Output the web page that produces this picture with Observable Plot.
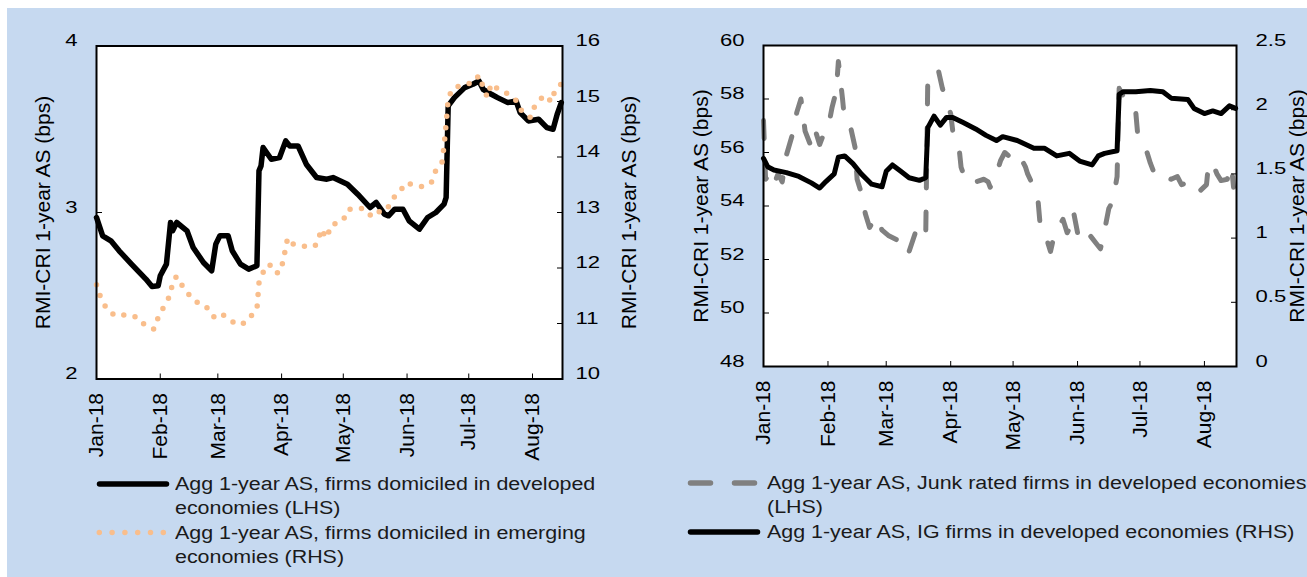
<!DOCTYPE html>
<html>
<head>
<meta charset="utf-8">
<script src="https://cdn.jsdelivr.net/npm/d3@7"></script>
<script src="https://cdn.jsdelivr.net/npm/@observablehq/plot@0.6"></script>
<style>
html, body { margin: 0; padding: 0; background: #ffffff; }
body { width: 1307px; height: 577px; overflow: hidden; position: relative; font-family: "Liberation Sans", Arial, sans-serif; }
#bg { position: absolute; left: 7px; top: 8px; width: 1300px; height: 569px; background: #C6D9F0; }
.panel { position: absolute; top: 0; }
.leg { position: absolute; font-size: 18px; line-height: 24.5px; color: #1a1a1a; white-space: pre; transform: scaleX(1.19); transform-origin: left center; }
svg.sw { position: absolute; left: 0; top: 0; overflow: visible; }
</style>
</head>
<body>
<div id="bg"></div>
<div id="left" class="panel" style="left:0px"></div>
<div id="right" class="panel" style="left:655px"></div>
<svg class="sw" width="1307" height="577" id="swatches"></svg>
<div id="legL" class="leg" style="left:175px; top:471.75px"></div>
<div id="legR" class="leg" style="left:767px; top:470.75px"></div>
<script>
// ---------- data ----------
const yTitle = "RMI-CRI 1-year AS (bps)";
const monthTicks = ["2018-01-01","2018-02-01","2018-03-01","2018-04-01","2018-05-01","2018-06-01","2018-07-01","2018-08-01"];

// Left panel
const devLabel = ["Agg 1-year AS, firms domiciled in developed", "economies (LHS)"];
const emLabel = ["Agg 1-year AS, firms domiciled in emerging", "economies (RHS)"];
const leftTicksL = [2, 3, 4];
const leftTicksR = [10, 11, 12, 13, 14, 15, 16];

const devDates = ["2018-01-01","2018-01-04","2018-01-08","2018-01-12","2018-01-18","2018-01-25","2018-01-28","2018-01-31","2018-02-01","2018-02-04","2018-02-06","2018-02-07","2018-02-09","2018-02-14","2018-02-17","2018-02-22","2018-02-26","2018-02-28","2018-03-02","2018-03-06","2018-03-08","2018-03-12","2018-03-16","2018-03-20","2018-03-21","2018-03-22","2018-03-23","2018-03-27","2018-03-31","2018-04-03","2018-04-05","2018-04-09","2018-04-13","2018-04-18","2018-04-23","2018-04-26","2018-05-03","2018-05-08","2018-05-14","2018-05-17","2018-05-21","2018-05-23","2018-05-26","2018-05-30","2018-06-02","2018-06-07","2018-06-11","2018-06-15","2018-06-19","2018-06-20","2018-06-21","2018-06-24","2018-06-29","2018-07-03","2018-07-06","2018-07-08","2018-07-12","2018-07-15","2018-07-20","2018-07-24","2018-07-26","2018-07-30","2018-08-04","2018-08-08","2018-08-11","2018-08-13","2018-08-15"];
const devValues = [2.97,2.86,2.83,2.77,2.69,2.60,2.555,2.56,2.62,2.69,2.94,2.89,2.94,2.89,2.79,2.70,2.65,2.81,2.86,2.86,2.77,2.69,2.66,2.68,3.25,3.28,3.39,3.32,3.33,3.43,3.40,3.40,3.29,3.21,3.20,3.21,3.17,3.11,3.03,3.06,2.99,2.98,3.02,3.02,2.95,2.90,2.97,3.00,3.05,3.09,3.64,3.69,3.75,3.77,3.79,3.74,3.71,3.69,3.66,3.67,3.60,3.55,3.56,3.51,3.50,3.59,3.66];

const emDates = ["2018-01-01","2018-01-03","2018-01-06","2018-01-10","2018-01-16","2018-01-21","2018-01-25","2018-01-29","2018-01-31","2018-02-03","2018-02-06","2018-02-07","2018-02-09","2018-02-11","2018-02-15","2018-02-19","2018-02-23","2018-02-27","2018-03-02","2018-03-06","2018-03-10","2018-03-14","2018-03-17","2018-03-20","2018-03-21","2018-03-23","2018-03-25","2018-03-28","2018-03-30","2018-03-31","2018-04-02","2018-04-03","2018-04-04","2018-04-06","2018-04-12","2018-04-17","2018-04-19","2018-04-20","2018-04-23","2018-04-25","2018-05-01","2018-05-03","2018-05-08","2018-05-11","2018-05-15","2018-05-18","2018-05-22","2018-05-25","2018-05-29","2018-05-31","2018-06-05","2018-06-09","2018-06-13","2018-06-15","2018-06-18","2018-06-19","2018-06-20","2018-06-21","2018-06-23","2018-06-25","2018-06-28","2018-06-30","2018-07-03","2018-07-06","2018-07-08","2018-07-10","2018-07-12","2018-07-16","2018-07-20","2018-07-24","2018-07-27","2018-07-31","2018-08-02","2018-08-05","2018-08-08","2018-08-10","2018-08-12","2018-08-15"];
const emValues = [11.70,11.47,11.26,11.14,11.16,11.11,10.95,10.90,11.11,11.32,11.52,11.76,11.85,11.72,11.52,11.38,11.32,11.12,11.19,11.10,10.98,11.01,11.13,11.26,11.73,11.92,12.06,12.04,11.91,11.92,12.15,12.39,12.54,12.44,12.39,12.39,12.48,12.70,12.54,12.77,12.86,13.05,13.08,13.07,12.92,13.01,13.04,13.25,13.40,13.53,13.50,13.46,13.55,13.76,13.91,14.20,14.60,15.05,15.23,15.26,15.30,15.32,15.33,15.47,15.26,15.08,15.32,15.20,15.14,15.02,14.81,14.71,14.91,15.05,15.11,14.99,15.20,15.32];

// Right panel
const junkLabel = ["Agg 1-year AS, Junk rated firms in developed economies", "(LHS)"];
const igLabel = ["Agg 1-year AS, IG firms in developed economies (RHS)"];
const rightTicksL = [48, 50, 52, 54, 56, 58, 60];
const rightTicksR = [0, 0.5, 1, 1.5, 2, 2.5];

const junkDates = ["2018-01-01","2018-01-02","2018-01-04","2018-01-06","2018-01-08","2018-01-10","2018-01-12","2018-01-15","2018-01-17","2018-01-19","2018-01-21","2018-01-24","2018-01-26","2018-01-28","2018-01-30","2018-02-01","2018-02-03","2018-02-05","2018-02-06","2018-02-08","2018-02-09","2018-02-12","2018-02-14","2018-02-15","2018-02-17","2018-02-19","2018-02-21","2018-02-24","2018-02-27","2018-03-02","2018-03-07","2018-03-10","2018-03-12","2018-03-15","2018-03-17","2018-03-20","2018-03-21","2018-03-23","2018-03-26","2018-03-28","2018-03-30","2018-04-01","2018-04-02","2018-04-05","2018-04-06","2018-04-08","2018-04-10","2018-04-13","2018-04-17","2018-04-19","2018-04-20","2018-04-23","2018-04-25","2018-04-27","2018-04-30","2018-05-01","2018-05-04","2018-05-06","2018-05-07","2018-05-08","2018-05-11","2018-05-13","2018-05-14","2018-05-17","2018-05-19","2018-05-21","2018-05-25","2018-05-27","2018-05-29","2018-05-30","2018-06-01","2018-06-05","2018-06-07","2018-06-10","2018-06-12","2018-06-14","2018-06-16","2018-06-18","2018-06-20","2018-06-21","2018-06-23","2018-06-25","2018-06-27","2018-06-29","2018-06-30","2018-07-04","2018-07-06","2018-07-08","2018-07-11","2018-07-13","2018-07-16","2018-07-19","2018-07-21","2018-07-25","2018-07-29","2018-08-02","2018-08-03","2018-08-05","2018-08-07","2018-08-09","2018-08-12","2018-08-13","2018-08-14","2018-08-15"];
const junkValues = [57.2,55.0,55.2,54.8,55.2,54.9,55.9,56.7,57.5,58.0,56.8,56.2,56.8,56.3,56.7,56.9,57.7,58.3,59.4,58.0,57.2,56.9,56.2,55.0,54.5,53.7,53.2,53.6,53.1,52.9,52.7,52.8,52.3,53.0,52.7,52.9,58.8,58.9,59.1,58.4,57.9,57.45,56.8,56.2,55.45,55.0,55.1,54.9,55.0,54.9,54.7,55.2,55.7,56.0,55.8,55.9,55.95,55.6,55.45,55.2,54.7,54.2,53.3,52.8,52.3,53.0,53.5,53.0,53.3,53.8,53.0,52.6,52.9,52.6,52.4,53.1,53.9,54.2,55.1,58.4,58.1,58.0,57.9,57.5,56.6,56.1,55.6,55.2,55.0,55.1,55.0,55.1,54.8,54.9,54.5,54.8,55.6,55.6,55.2,54.95,55.0,55.4,55.5,54.7];

const igDates = ["2018-01-01","2018-01-03","2018-01-06","2018-01-12","2018-01-18","2018-01-24","2018-01-28","2018-01-31","2018-02-04","2018-02-06","2018-02-09","2018-02-13","2018-02-17","2018-02-22","2018-02-27","2018-03-01","2018-03-04","2018-03-08","2018-03-12","2018-03-17","2018-03-20","2018-03-21","2018-03-22","2018-03-24","2018-03-27","2018-03-30","2018-04-02","2018-04-07","2018-04-13","2018-04-18","2018-04-23","2018-04-26","2018-05-03","2018-05-11","2018-05-16","2018-05-22","2018-05-28","2018-06-02","2018-06-08","2018-06-11","2018-06-14","2018-06-20","2018-06-21","2018-06-23","2018-06-29","2018-07-06","2018-07-12","2018-07-16","2018-07-24","2018-07-27","2018-08-01","2018-08-05","2018-08-09","2018-08-13","2018-08-16"];
const igValues = [1.62,1.556,1.53,1.51,1.48,1.43,1.39,1.44,1.50,1.63,1.64,1.58,1.50,1.42,1.40,1.52,1.57,1.52,1.47,1.45,1.47,1.86,1.89,1.95,1.88,1.94,1.94,1.90,1.85,1.80,1.76,1.79,1.76,1.70,1.70,1.64,1.66,1.60,1.57,1.64,1.66,1.68,2.12,2.14,2.14,2.15,2.14,2.09,2.08,2.01,1.97,1.99,1.97,2.03,2.01];

// ---------- helpers ----------
const parse = d3.utcParse("%Y-%m-%d");
const fmtMonth = d3.utcFormat("%b-%y");
const fontFamily = '"Liberation Sans", Arial, sans-serif';
const clean = v => String(+v.toFixed(6));

function stretchTicks(svg, s) {
  svg.querySelectorAll('g[aria-label="y-axis tick label"] text').forEach(t => {
    const x = t.getAttribute("x"), y = t.getAttribute("y");
    const tr = t.getAttribute("transform") || "";
    let extra = "";
    if (x !== null || y !== null) {
      extra = ` translate(${+x || 0},${+y || 0})`;
      t.setAttribute("x", 0); t.setAttribute("y", 0);
    }
    t.setAttribute("transform", `${tr}${extra} scale(${s},1)`);
  });
}

function panel({width, height, margins, xEnd, lDomain, rDomain, lTicks, rTicks, lhsSeries, rhsSeries, lhsStyle, rhsStyle, rhsOnTop, titleDx, rPad, lPad}) {
  const [l0, l1] = lDomain, [r0, r1] = rDomain;
  const toL = r => l0 + (r - r0) * (l1 - l0) / (r1 - r0);
  const fromL = l => r0 + (l - l0) * (r1 - r0) / (l1 - l0);
  const lhs = lhsSeries.dates.map((d, i) => ({date: parse(d), v: lhsSeries.values[i]}));
  const rhs = rhsSeries.dates.map((d, i) => ({date: parse(d), v: toL(rhsSeries.values[i])}));
  const lhsMark = Plot.line(lhs, {x: "date", y: "v", ...lhsStyle});
  const rhsMark = Plot.line(rhs, {x: "date", y: "v", ...rhsStyle});
  const svg = Plot.plot({
    width, height,
    marginLeft: margins[0], marginRight: margins[1], marginTop: margins[2], marginBottom: margins[3],
    style: {background: "none", fontFamily, fontSize: "17px", color: "#000", overflow: "hidden"},
    x: {type: "utc", domain: [parse("2018-01-01"), xEnd]},
    y: {domain: lDomain},
    marks: [
      Plot.frame({fill: "white", stroke: "none"}),
      ...(rhsOnTop ? [lhsMark, rhsMark] : [rhsMark, lhsMark]),
      Plot.axisY(lTicks, {anchor: "left", tickSize: -6, tickPadding: lPad, tickFormat: d => clean(d), label: null, fontSize: 17}),
      Plot.axisY(rTicks.map(toL), {anchor: "right", tickSize: -6, tickPadding: rPad, tickFormat: d => clean(fromL(d)), label: null, fontSize: 17}),
      Plot.axisX(monthTicks.map(parse), {anchor: "bottom", tickSize: -5, tickPadding: 19, tickRotate: -90, tickFormat: fmtMonth, label: null, fontSize: 21}),
      Plot.frame({stroke: "black", strokeWidth: 2}),
      Plot.text([yTitle], {frameAnchor: "left", dx: titleDx[0], rotate: -90, textAnchor: "middle", lineAnchor: "middle", fontSize: 21, text: d => d, fill: "#000"}),
      Plot.text([yTitle], {frameAnchor: "right", dx: titleDx[1], rotate: -90, textAnchor: "middle", lineAnchor: "middle", fontSize: 21, text: d => d, fill: "#000"})
    ]
  });
  stretchTicks(svg, 1.3);
  return svg;
}

// ---------- left panel ----------
document.getElementById("left").append(panel({
  width: 655, height: 470, margins: [96, 93, 45.5, 91.5],
  xEnd: new Date(Date.UTC(2018, 7, 15, 14)),
  lDomain: [2, 4], rDomain: [10, 16], lTicks: leftTicksL, rTicks: leftTicksR,
  lhsSeries: {dates: devDates, values: devValues},
  rhsSeries: {dates: emDates, values: emValues},
  lhsStyle: {stroke: "#000", strokeWidth: 5.5, strokeLinejoin: "round", strokeLinecap: "round"},
  rhsStyle: {stroke: "#F9BE8C", strokeWidth: 5.5, strokeDasharray: "0,11.5", strokeLinecap: "round"},
  rhsOnTop: true, titleDx: [-53, 67], lPad: 25, rPad: 19
}));

// ---------- right panel ----------
document.getElementById("right").append(panel({
  width: 652, height: 470, margins: [108, 71, 45, 104],
  xEnd: new Date(Date.UTC(2018, 7, 16, 10)),
  lDomain: [48, 60], rDomain: [0, 2.5], lTicks: rightTicksL, rTicks: rightTicksR,
  lhsSeries: {dates: junkDates, values: junkValues},
  rhsSeries: {dates: igDates, values: igValues},
  lhsStyle: {stroke: "#808080", strokeWidth: 5, strokeDasharray: "18,24", strokeLinecap: "round", strokeLinejoin: "round"},
  rhsStyle: {stroke: "#000", strokeWidth: 5, strokeLinejoin: "round", strokeLinecap: "round"},
  rhsOnTop: true, titleDx: [-62, 61], lPad: 25, rPad: 25
}));

// ---------- legends ----------
document.getElementById("legL").textContent = [...devLabel, ...emLabel].join("\n");
document.getElementById("legR").textContent = [...junkLabel, ...igLabel].join("\n");
const ns = "http://www.w3.org/2000/svg";
const sw = document.getElementById("swatches");
function swatch(x1, x2, y, attrs) {
  const l = document.createElementNS(ns, "line");
  Object.entries({x1, x2, y1: y, y2: y, "stroke-linecap": "round", ...attrs}).forEach(([k, v]) => l.setAttribute(k, v));
  sw.append(l);
}
swatch(99.5, 166.5, 484, {stroke: "#000", "stroke-width": 5.5});
swatch(99.3, 164, 532.5, {stroke: "#F9BE8C", "stroke-width": 5.5, "stroke-dasharray": "0,12.8"});
swatch(690.5, 754.5, 483, {stroke: "#808080", "stroke-width": 5.5, "stroke-dasharray": "20,24"});
swatch(690.5, 757.5, 532, {stroke: "#000", "stroke-width": 5.5});
</script>
</body>
</html>
